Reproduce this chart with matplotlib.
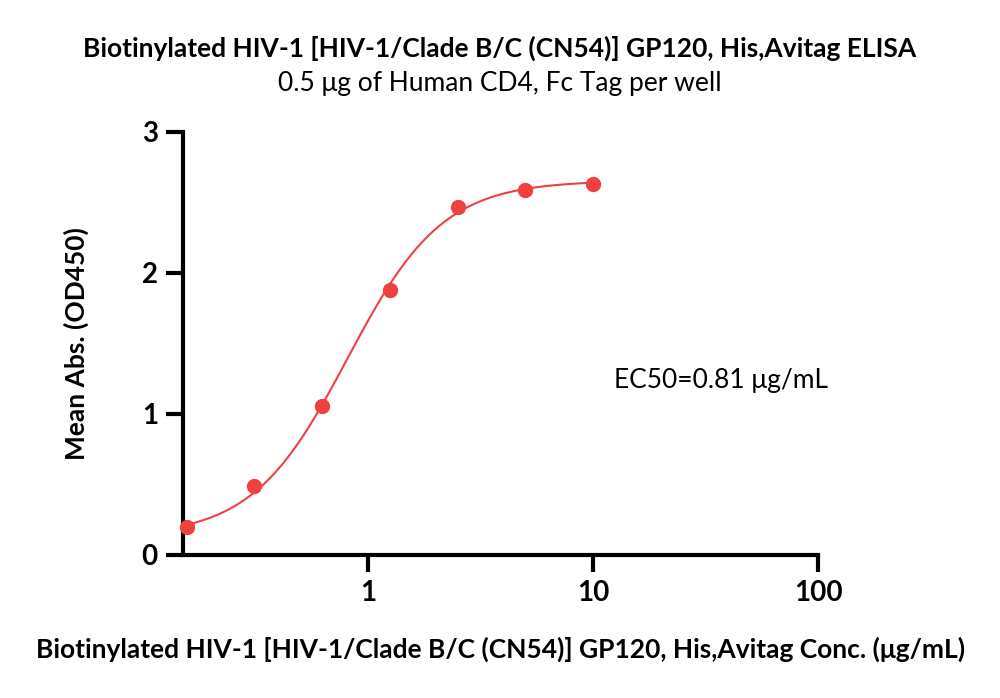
import numpy as np
import matplotlib
matplotlib.use("Agg")
import matplotlib.pyplot as plt
from matplotlib.ticker import FixedLocator, NullLocator, FixedFormatter

# Data
conc = [0.15625, 0.3125, 0.625, 1.25, 2.5, 5, 10]
od450 = [0.20, 0.49, 1.06, 1.88, 2.47, 2.59, 2.63]
# 4PL fit parameters
fit_bottom, fit_top, fit_ec50, fit_hill = 0.13, 2.655, 0.81, 2.05
xticks = [1, 10, 100]
xticklabels = ["1", "10", "100"]
yticks = [0, 1, 2, 3]

title = "Biotinylated HIV-1 [HIV-1/Clade B/C (CN54)] GP120, His,Avitag ELISA"
subtitle = "0.5 μg of Human CD4, Fc Tag per well"
xlabel = "Biotinylated HIV-1 [HIV-1/Clade B/C (CN54)] GP120, His,Avitag Conc. (μg/mL)"
ylabel = "Mean Abs. (OD450)"
ec50_text = "EC50=0.81 μg/mL"

plt.rcParams['font.family'] = ['Lato', 'DejaVu Sans']
red = "#F04040"

fig = plt.figure(figsize=(10, 6.98), dpi=100)
ax = fig.add_axes([0.183, 0.2049, 0.635, 0.606])

xs = np.logspace(np.log10(conc[0]), np.log10(conc[-1]), 300)
ys = fit_bottom + (fit_top - fit_bottom) / (1 + (fit_ec50 / xs) ** fit_hill)
ax.plot(xs, ys, color=red, lw=1.5, zorder=2)
ax.plot(conc, od450, 'o', color=red, ms=10, zorder=3, clip_on=False)

ax.set_xscale('log')
ax.set_xlim(0.1506, 100)
ax.set_ylim(0, 3)
ax.xaxis.set_major_locator(FixedLocator(xticks))
ax.xaxis.set_major_formatter(FixedFormatter(xticklabels))
ax.xaxis.set_minor_locator(NullLocator())
ax.set_yticks(yticks)
ax.set_yticklabels([str(v) for v in yticks])

for s in ['top', 'right']:
    ax.spines[s].set_visible(False)
for s in ['left', 'bottom']:
    ax.spines[s].set_linewidth(3)
ax.tick_params(axis='both', which='major', length=12, width=3, labelsize=20, pad=6)
for lab in ax.get_xticklabels() + ax.get_yticklabels():
    lab.set_fontweight('bold')

ax.set_xlabel(xlabel, fontsize=19, fontweight='bold', labelpad=22)
ax.set_ylabel(ylabel, fontsize=19, fontweight='bold', labelpad=38)

fig.text(0.5, 0.931, title, ha='center', va='center', fontsize=19, fontweight='bold')
fig.text(0.5, 0.881, subtitle, ha='center', va='center', fontsize=19)
fig.text(0.614, 0.455, ec50_text, ha='left', va='center', fontsize=19)

fig.savefig("out.png", dpi=100)
